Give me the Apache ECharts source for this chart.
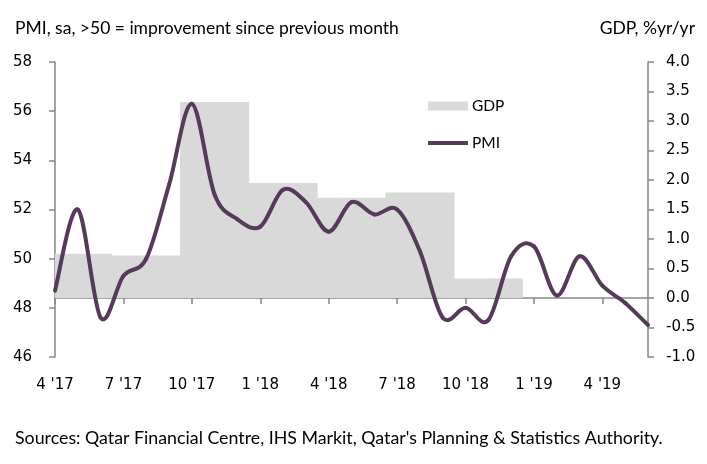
<!DOCTYPE html>
<html><head><meta charset="utf-8">
<script src="https://cdn.jsdelivr.net/npm/echarts@6/dist/echarts.min.js"></script>
<style>html,body{margin:0;padding:0;background:#fff}#c{width:707px;height:464px}</style>
</head><body><div id="c"></div>
<script>
// Monthly categories Apr 2017 .. Jun 2019 (every third one is labelled)
const months = ["4 '17","5 '17","6 '17","7 '17","8 '17","9 '17","10 '17","11 '17","12 '17",
  "1 '18","2 '18","3 '18","4 '18","5 '18","6 '18","7 '18","8 '18","9 '18","10 '18","11 '18","12 '18",
  "1 '19","2 '19","3 '19","4 '19","5 '19","6 '19"];
// PMI, sa (left axis)
const pmi = [48.7,52.0,47.6,49.3,50.0,53.0,56.3,52.6,51.6,
  51.3,52.8,52.3,51.1,52.3,51.8,52.0,50.3,47.6,48.0,47.5,50.1,
  50.5,48.5,50.1,48.9,48.2,47.3];
// GDP %yr/yr (right axis), quarterly: Q2'17 .. Q4'18, each spanning its three months
const gdpQuarters = ["Q2 '17","Q3 '17","Q4 '17","Q1 '18","Q2 '18","Q3 '18","Q4 '18"];
const gdp = [0.75,0.72,3.32,1.95,1.70,1.79,0.33];
const leftTicks = {min:46, max:58, step:2};
const rightTicks = {min:-1, max:4, step:0.5};

// GDP expanded onto half-month bands so quarter steps fall between months
const halfBands = Array.from({length:(months.length-1)*2}, (_,k)=>k);
const gdpBands = halfBands.map(k=>{
  const q = Math.floor((k*0.5 + 0.25 + 0.5) / 3);
  return q < gdp.length ? gdp[q] : null;
});

const axisGray = '#868686';
const lineColor = '#553a5a';
const tickFont = {fontFamily:'DejaVu Sans', fontSize:15, color:'#000'};

function renderPmi(params, api){
  const i = params.dataIndex, n = pmi.length;
  if (i >= n - 1) return null;
  const P = k => api.coord([Math.max(0, Math.min(n-1, k)), pmi[Math.max(0, Math.min(n-1, k))]]);
  const p0 = P(i-1), p1 = P(i), p2 = P(i+1), p3 = P(i+2);
  return {
    type:'bezierCurve',
    shape:{x1:p1[0], y1:p1[1], x2:p2[0], y2:p2[1],
      cpx1:p1[0] + (p2[0]-p0[0])/6, cpy1:p1[1] + (p2[1]-p0[1])/6,
      cpx2:p2[0] - (p3[0]-p1[0])/6, cpy2:p2[1] - (p3[1]-p1[1])/6},
    style:{stroke:lineColor, lineWidth:4, fill:'none', lineCap:'round'}
  };
}

const chart = echarts.init(document.getElementById('c'), null, {renderer:'canvas'});
chart.setOption({
  animation:false,
  grid:{left:55, right:59, top:62, bottom:107},
  legend:{
    orient:'vertical', left:428, top:98, padding:0, itemWidth:40, itemHeight:9, itemGap:21,
    textStyle:{fontFamily:'Lato', fontSize:15.5, color:'#000', padding:[0,0,0,-1]},
    data:[
      {name:'GDP', icon:'rect', itemStyle:{color:'#d9d9d9'}},
      {name:'PMI', icon:'path://M0,0 L40,0 L40,4 L0,4 Z', itemStyle:{color:lineColor}}
    ]
  },
  xAxis:[
    {type:'category', data:months, boundaryGap:false,
     axisLine:{lineStyle:{color:axisGray, width:1.5}},
     axisTick:{interval:2, length:6, lineStyle:{color:axisGray, width:1.5}},
     axisLabel:{interval:2, margin:21, ...tickFont},
     splitLine:{show:false}},
    {type:'category', data:halfBands, boundaryGap:true, show:false}
  ],
  yAxis:[
    {type:'value', min:leftTicks.min, max:leftTicks.max, interval:leftTicks.step, position:'left',
     axisLine:{show:true, lineStyle:{color:axisGray, width:1.5}},
     axisTick:{show:true, length:6, lineStyle:{color:axisGray, width:1.5}},
     axisLabel:{margin:23, ...tickFont},
     splitLine:{show:false}},
    {type:'value', min:rightTicks.min, max:rightTicks.max, interval:rightTicks.step, position:'right',
     axisLine:{show:true, lineStyle:{color:axisGray, width:1.5}},
     axisTick:{show:true, length:6, lineStyle:{color:axisGray, width:1.5}},
     axisLabel:{margin:18, ...tickFont, formatter:v=>v.toFixed(1)},
     splitLine:{show:false}}
  ],
  series:[
    {name:'GDP', type:'bar', xAxisIndex:1, yAxisIndex:1, data:gdpBands, barWidth:'106%',
     itemStyle:{color:'#d9d9d9'}, z:1},
    {name:'PMI', type:'custom', xAxisIndex:0, yAxisIndex:0,
     data:pmi.map((v,i)=>[i,v]), renderItem:renderPmi, itemStyle:{color:lineColor}, z:3}
  ],
  graphic:[
    {type:'text', left:15, top:19, style:{text:'PMI, sa, >50 = improvement since previous month', font:'17.5px "Lato"', fill:'#000'}},
    {type:'text', right:12, top:19, style:{text:'GDP, %yr/yr', font:'17.5px "Lato"', fill:'#000'}},
    {type:'text', left:15, top:429, style:{text:"Sources: Qatar Financial Centre, IHS Markit, Qatar's Planning & Statistics Authority.", font:'17.8px "Lato"', fill:'#000'}}
  ]
});
</script></body></html>
